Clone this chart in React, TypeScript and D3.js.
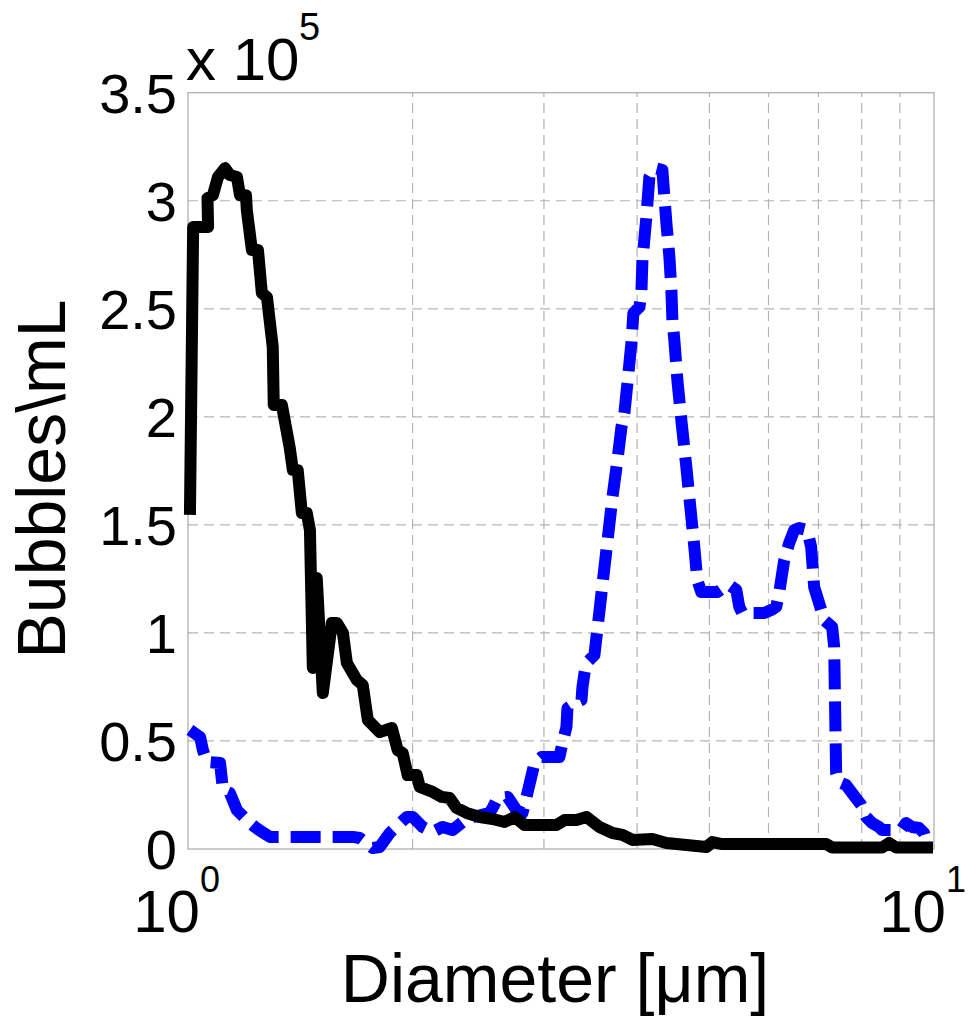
import React from "react";
import * as d3 from "d3";

// Black solid series (diameter in µm, bubbles/mL in units of 1e5)
const blackX = [1.006, 1.016, 1.064, 1.062, 1.080, 1.097, 1.121, 1.138, 1.163, 1.174, 1.196, 1.199, 1.218, 1.241, 1.256, 1.276, 1.299, 1.303, 1.336, 1.369, 1.382, 1.403, 1.421, 1.443, 1.457, 1.470, 1.488, 1.516, 1.559, 1.583, 1.613, 1.633, 1.684, 1.715, 1.742, 1.807, 1.876, 1.910, 1.940, 1.970, 2.026, 2.045, 2.128, 2.188, 2.242, 2.291, 2.363, 2.460, 2.561, 2.657, 2.741, 2.826, 3.119, 3.197, 3.317, 3.421, 3.561, 3.707, 3.823, 3.943, 4.193, 4.378, 4.953, 5.045, 5.203, 7.169, 7.303, 8.519, 8.706, 8.895, 9.97];
const blackY = [1.546, 2.878, 2.878, 3.012, 3.026, 3.110, 3.151, 3.119, 3.110, 3.026, 3.026, 2.957, 2.772, 2.772, 2.573, 2.554, 2.323, 2.055, 2.055, 1.856, 1.754, 1.754, 1.555, 1.555, 1.476, 0.838, 1.254, 0.722, 1.046, 1.046, 1.000, 0.861, 0.782, 0.759, 0.597, 0.541, 0.560, 0.458, 0.444, 0.342, 0.342, 0.287, 0.264, 0.241, 0.236, 0.190, 0.167, 0.148, 0.139, 0.125, 0.148, 0.111, 0.111, 0.134, 0.134, 0.148, 0.102, 0.074, 0.065, 0.042, 0.046, 0.028, 0.009, 0.032, 0.023, 0.023, 0.007, 0.007, 0.028, 0.007, 0.007];

// Blue dashed series
const blueX = [1.006, 1.038, 1.047, 1.060, 1.104, 1.114, 1.138, 1.163, 1.199, 1.229, 1.256, 1.288, 1.663, 1.699, 1.768, 1.807, 1.864, 1.964, 2.001, 2.063, 2.128, 2.194, 2.263, 2.334, 2.385, 2.537, 2.561, 2.600, 2.682, 2.756, 2.808, 2.843, 2.914, 2.978, 3.147, 3.177, 3.216, 3.226, 3.317, 3.369, 3.379, 3.400, 3.421, 3.506, 3.707, 3.764, 3.811, 3.846, 3.882, 3.930, 3.954, 4.028, 4.053, 4.066, 4.116, 4.154, 4.219, 4.324, 4.337, 4.378, 4.419, 4.446, 4.460, 4.487, 4.529, 4.585, 4.656, 4.699, 4.772, 4.816, 4.876, 5.124, 5.236, 5.317, 5.432, 5.483, 5.534, 5.921, 6.050, 6.144, 6.201, 6.298, 6.396, 6.495, 6.596, 6.761, 6.844, 6.908, 7.015, 7.124, 7.303, 7.348, 7.393, 7.462, 7.625, 7.767, 7.986, 8.110, 8.261, 8.441, 8.519, 9.033, 9.173, 9.344, 9.548, 9.696, 9.757];
const blueY = [0.551, 0.518, 0.458, 0.403, 0.398, 0.273, 0.259, 0.180, 0.134, 0.102, 0.079, 0.056, 0.056, 0.051, 0.005, 0.009, 0.074, 0.148, 0.148, 0.102, 0.079, 0.102, 0.088, 0.125, 0.143, 0.167, 0.190, 0.236, 0.241, 0.180, 0.167, 0.241, 0.398, 0.426, 0.426, 0.491, 0.565, 0.652, 0.680, 0.690, 0.750, 0.814, 0.861, 0.898, 1.629, 1.800, 1.953, 2.018, 2.156, 2.342, 2.480, 2.508, 2.573, 2.726, 2.925, 3.110, 3.151, 3.142, 3.082, 2.897, 2.739, 2.587, 2.448, 2.355, 2.170, 1.985, 1.768, 1.629, 1.398, 1.245, 1.189, 1.189, 1.212, 1.222, 1.199, 1.120, 1.092, 1.092, 1.106, 1.120, 1.185, 1.337, 1.416, 1.476, 1.485, 1.476, 1.398, 1.212, 1.138, 1.060, 1.027, 0.935, 0.352, 0.310, 0.296, 0.259, 0.204, 0.148, 0.120, 0.102, 0.088, 0.088, 0.120, 0.102, 0.097, 0.074, 0.042];

const yTicks = [0, 0.5, 1, 1.5, 2, 2.5, 3, 3.5];
const yTickLabels = ["0", "0.5", "1", "1.5", "2", "2.5", "3", "3.5"];
const xGrid = [2, 3, 4, 5, 6, 7, 8, 9];
const xTicks = [1, 10];
const xTickExps = ["0", "1"];

const W = 977;
const H = 1018;
const left = 188;
const right = 934;
const top = 92.7;
const bottom = 849;

export default function App() {
  const x = d3.scaleLog().domain([1, 10]).range([left, right]);
  const y = d3.scaleLinear().domain([0, 3.5]).range([bottom, top]);

  const line = d3
    .line<[number, number]>()
    .x((d) => x(d[0]))
    .y((d) => y(d[1]));

  const blackPts = blackX.map((v, i) => [v, blackY[i]] as [number, number]);
  const bluePts = blueX.map((v, i) => [v, blueY[i]] as [number, number]);

  const font = "Arial, 'Liberation Sans', Helvetica, sans-serif";
  const gridColor = "#b4b4b4";

  return (
    <svg
      width={W}
      height={H}
      style={{ position: "absolute", left: 0, top: 0, background: "#fff" }}
      fontFamily={font}
    >
      <rect x={0} y={0} width={W} height={H} fill="#fff" />
      {/* grid */}
      {yTicks
        .filter((t) => t > 0 && t < 3.5)
        .map((t) => (
          <line
            key={"gy" + t}
            x1={left}
            x2={right}
            y1={y(t)}
            y2={y(t)}
            stroke={gridColor}
            strokeWidth={1.2}
            strokeDasharray="10 6"
          />
        ))}
      {xGrid.map((t) => (
        <line
          key={"gx" + t}
          x1={x(t)}
          x2={x(t)}
          y1={bottom}
          y2={top}
          stroke={gridColor}
          strokeWidth={1.2}
          strokeDasharray="10 6"
        />
      ))}
      {/* box */}
      <rect
        x={left}
        y={top}
        width={right - left}
        height={bottom - top}
        fill="none"
        stroke="#a8a8a8"
        strokeWidth={1.2}
      />
      {/* series */}
      <path
        d={line(bluePts) || ""}
        fill="none"
        stroke="#0000ff"
        strokeWidth={12}
        strokeDasharray="30 12"
        strokeLinejoin="round"
      />
      <path
        d={line(blackPts) || ""}
        fill="none"
        stroke="#000"
        strokeWidth={12}
        strokeLinejoin="round"
      />
      {/* y tick labels */}
      {yTicks.map((t, i) => (
        <text
          key={"yt" + t}
          x={left - 11}
          y={y(t)}
          dy="0.36em"
          textAnchor="end"
          fontSize={56}
          fill="#000"
        >
          {yTickLabels[i]}
        </text>
      ))}
      {/* x tick labels */}
      {xTicks.map((t, i) => (
        <g key={"xt" + t}>
          <text x={x(t) + 12} y={932} textAnchor="end" fontSize={60} fill="#000">
            10
          </text>
          <text x={x(t) + 12} y={892} textAnchor="start" fontSize={36} fill="#000">
            {xTickExps[i]}
          </text>
        </g>
      ))}
      {/* exponent multiplier */}
      <text x={186} y={80} fontSize={60} fill="#000">
        x 10
      </text>
      <text x={299} y={40} fontSize={38} fill="#000">
        5
      </text>
      {/* axis labels */}
      <text x={555} y={1002} textAnchor="middle" fontSize={68} fill="#000">
        Diameter [μm]
      </text>
      <text
        transform={`translate(65, 479) rotate(-90)`}
        textAnchor="middle"
        fontSize={68}
        fill="#000"
      >
        Bubbles\mL
      </text>
    </svg>
  );
}
